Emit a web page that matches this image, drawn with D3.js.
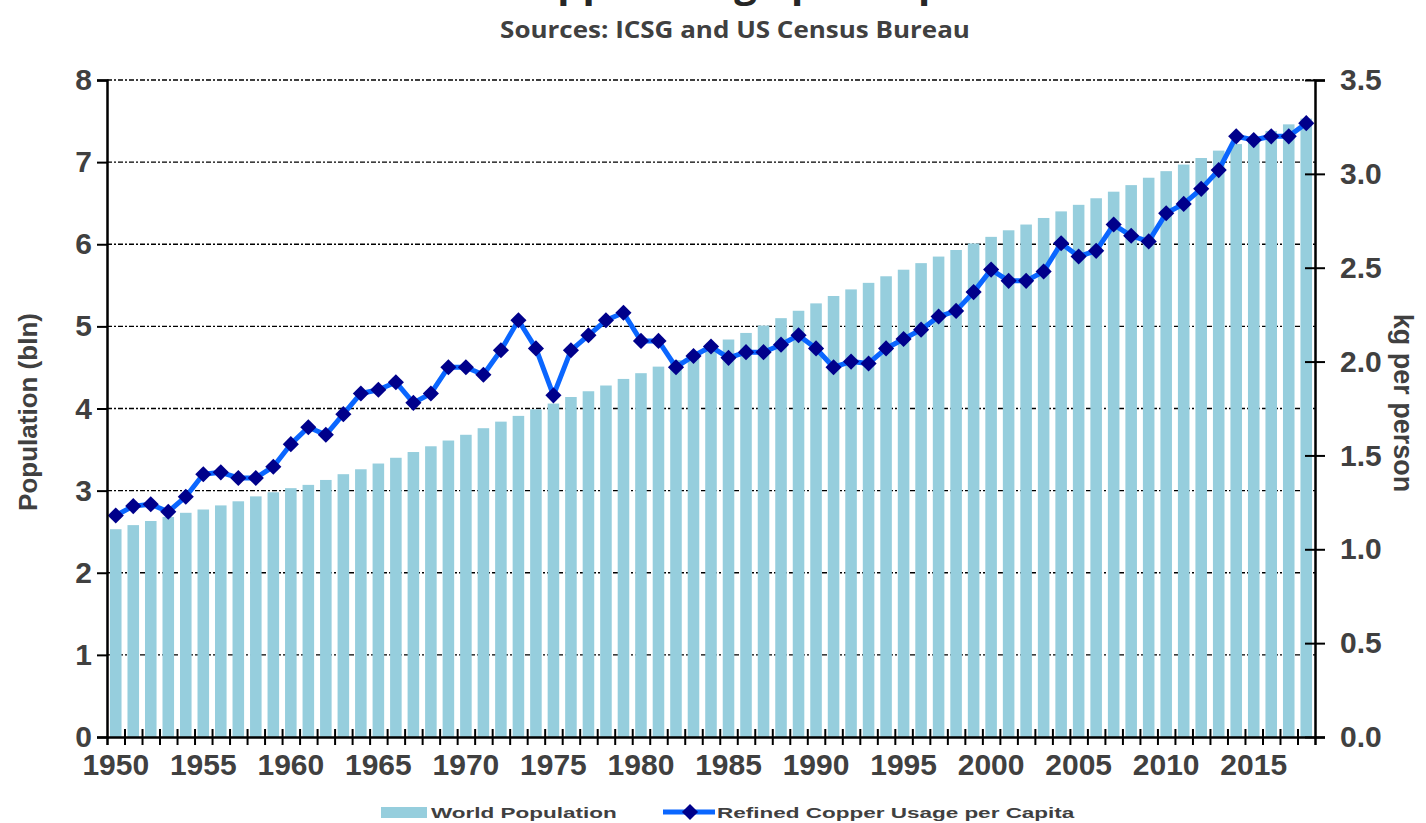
<!DOCTYPE html>
<html>
<head>
<meta charset="UTF-8">
<title>Copper Usage per Capita</title>
<style>
  body { margin: 0; background: #fff; }
  text { font-family: "Liberation Sans", Arial, sans-serif; }
</style>
</head>
<body>
<script src="https://cdn.jsdelivr.net/npm/d3@7"></script>
<script>

    var years = d3.range(1950, 2019);

    // world population, billions
    var population = [
        2.53, 2.58, 2.63, 2.68, 2.73, 2.77, 2.82, 2.87, 2.93, 2.98,
        3.03, 3.07, 3.13, 3.20, 3.26, 3.33, 3.40, 3.47, 3.54, 3.61,
        3.68, 3.76, 3.84, 3.91, 3.99, 4.06, 4.14, 4.21, 4.28, 4.36,
        4.43, 4.51, 4.59, 4.67, 4.75, 4.84, 4.92, 5.01, 5.10, 5.19,
        5.28, 5.37, 5.45, 5.53, 5.61, 5.69, 5.77, 5.85, 5.93, 6.01,
        6.09, 6.17, 6.24, 6.32, 6.40, 6.48, 6.56, 6.64, 6.72, 6.81,
        6.89, 6.97, 7.05, 7.14, 7.22, 7.30, 7.38, 7.46, 7.53
    ];

    // refined copper usage, kg per person
    var copper = [
        1.18, 1.23, 1.24, 1.20, 1.28, 1.40, 1.41, 1.38, 1.38, 1.44,
        1.56, 1.65, 1.61, 1.72, 1.83, 1.85, 1.89, 1.78, 1.83, 1.97,
        1.97, 1.93, 2.06, 2.22, 2.07, 1.82, 2.06, 2.14, 2.22, 2.26,
        2.11, 2.11, 1.97, 2.03, 2.08, 2.02, 2.05, 2.05, 2.09, 2.14,
        2.07, 1.97, 2.00, 1.99, 2.07, 2.12, 2.17, 2.24, 2.27, 2.37,
        2.49, 2.43, 2.43, 2.48, 2.63, 2.56, 2.59, 2.73, 2.67, 2.64,
        2.79, 2.84, 2.92, 3.02, 3.20, 3.18, 3.20, 3.20, 3.27
    ];

    var leftTicks = [0, 1, 2, 3, 4, 5, 6, 7, 8];
    var rightTicks = [0, 0.5, 1, 1.5, 2, 2.5, 3, 3.5];
    var labelYears = [1950, 1955, 1960, 1965, 1970, 1975, 1980, 1985, 1990, 1995, 2000, 2005, 2010, 2015];

    var w = 1426,
        h = 823;
    var pLeft = 107, pRight = 1315, pTop = 80, pBottom = 737;
    var textCol = '#404040';

    var svg = d3.select('body')
            .append('svg')
            .attr('width', w)
            .attr('height', h)
            .style('display', 'block');

    var x = d3.scaleBand()
            .domain(years)
            .range([pLeft, pRight])
            .paddingInner(0.34)
            .paddingOuter(0.17);

    // boundaries between years, for the tick marks
    var xEdge = d3.scaleLinear()
            .domain([1950, 2019])
            .range([pLeft, pRight]);

    var yL = d3.scaleLinear().domain([0, 8]).range([pBottom, pTop]);
    var yR = d3.scaleLinear().domain([0, 3.5]).range([pBottom, pTop]);

    // grid lines
    svg.append('g')
            .selectAll('line')
            .data(leftTicks.slice(1))
            .enter()
            .append('line')
            .attr('x1', pLeft)
            .attr('x2', pRight)
            .attr('y1', function(d) { return yL(d); })
            .attr('y2', function(d) { return yL(d); })
            .attr('stroke', '#000')
            .attr('stroke-width', 1.3)
            .attr('stroke-dasharray', '5,2,2,2');

    // bars
    svg.append('g')
            .selectAll('rect')
            .data(population)
            .enter()
            .append('rect')
            .attr('x', function(d, i) { return x(years[i]); })
            .attr('y', function(d) { return yL(d); })
            .attr('width', x.bandwidth())
            .attr('height', function(d) { return pBottom - yL(d); })
            .attr('fill', '#96CEDD');

    // copper line
    var line = d3.line()
            .x(function(d, i) { return x(years[i]) + x.bandwidth() / 2; })
            .y(function(d) { return yR(d); });

    svg.append('path')
            .datum(copper)
            .attr('d', line)
            .attr('fill', 'none')
            .attr('stroke', '#0A66FF')
            .attr('stroke-width', 5)
            .attr('stroke-linejoin', 'round');

    var diamond = d3.symbol().type(d3.symbolSquare).size(130);

    svg.append('g')
            .selectAll('path')
            .data(copper)
            .enter()
            .append('path')
            .attr('d', diamond)
            .attr('transform', function(d, i) {
                return 'translate(' + (x(years[i]) + x.bandwidth() / 2) + ',' + yR(d) + ') rotate(45)';
            })
            .attr('fill', '#00008B');

    // left axis
    svg.append('g')
            .attr('transform', 'translate(' + pLeft + ',0)')
            .call(d3.axisLeft(yL).tickValues(leftTicks).tickSize(10).tickPadding(5).tickFormat(d3.format('d')));

    // right axis, ticks cross the line
    var axR = svg.append('g')
            .attr('transform', 'translate(' + pRight + ',0)')
            .call(d3.axisRight(yR).tickValues(rightTicks).tickSize(10).tickPadding(15).tickFormat(d3.format('.1f')));
    axR.selectAll('.tick line').attr('x1', -10);

    // bottom axis: tick marks at year edges, labels at year centres
    var axB = svg.append('g')
            .attr('transform', 'translate(0,' + pBottom + ')')
            .call(d3.axisBottom(xEdge).tickValues(d3.range(1951, 2019)).tickSize(8).tickFormat(''));
    axB.selectAll('.tick line').attr('y1', -8);

    svg.append('g')
            .attr('transform', 'translate(0,' + pBottom + ')')
            .call(d3.axisBottom(x).tickValues(labelYears).tickSize(0).tickPadding(17))
            .select('.domain').remove();

    svg.selectAll('.domain').attr('stroke', '#000').attr('stroke-width', 2.5);
    svg.selectAll('.tick line').attr('stroke', '#000').attr('stroke-width', 2);
    svg.selectAll('.tick text')
            .attr('fill', textCol)
            .style('font-size', '30px')
            .style('font-weight', 'bold');

    // axis titles
    svg.append('text')
            .attr('transform', 'translate(37,412) rotate(-90)')
            .attr('text-anchor', 'middle')
            .attr('fill', textCol)
            .style('font-size', '26px')
            .style('font-weight', 'bold')
            .text('Population (bln)');

    svg.append('text')
            .attr('transform', 'translate(1394,403) rotate(90)')
            .attr('text-anchor', 'middle')
            .attr('fill', textCol)
            .style('font-size', '27px')
            .style('font-weight', 'bold')
            .text('kg per person');

    // titles (main title is cut off at the top edge in the original)
    svg.append('text')
            .attr('x', 752)
            .attr('y', -3)
            .attr('text-anchor', 'middle')
            .attr('fill', '#262626')
            .style('font-family', '"Open Sans", sans-serif')
            .style('font-size', '40px')
            .style('font-weight', 'bold')
            .text('Copper Usage per Capita');

    svg.append('text')
            .attr('transform', 'translate(735,38) scale(1.13,1)')
            .attr('text-anchor', 'middle')
            .attr('fill', textCol)
            .style('font-family', '"Open Sans", sans-serif')
            .style('font-size', '23px')
            .style('font-weight', 'bold')
            .text('Sources: ICSG and US Census Bureau');

    // legend
    var lg = svg.append('g');
    lg.append('rect')
            .attr('x', 381).attr('y', 807)
            .attr('width', 46).attr('height', 11)
            .attr('fill', '#96CEDD');
    lg.append('text')
            .attr('transform', 'translate(431,818) scale(1.5,1)')
            .attr('fill', textCol)
            .style('font-size', '15px')
            .style('font-weight', 'bold')
            .text('World Population');
    lg.append('line')
            .attr('x1', 663).attr('x2', 715)
            .attr('y1', 812).attr('y2', 812)
            .attr('stroke', '#0A66FF')
            .attr('stroke-width', 5);
    lg.append('path')
            .attr('d', diamond)
            .attr('transform', 'translate(690,812) rotate(45)')
            .attr('fill', '#00008B');
    lg.append('text')
            .attr('transform', 'translate(717,818) scale(1.5,1)')
            .attr('fill', textCol)
            .style('font-size', '15px')
            .style('font-weight', 'bold')
            .text('Refined Copper Usage per Capita');

</script>
</body>
</html>
